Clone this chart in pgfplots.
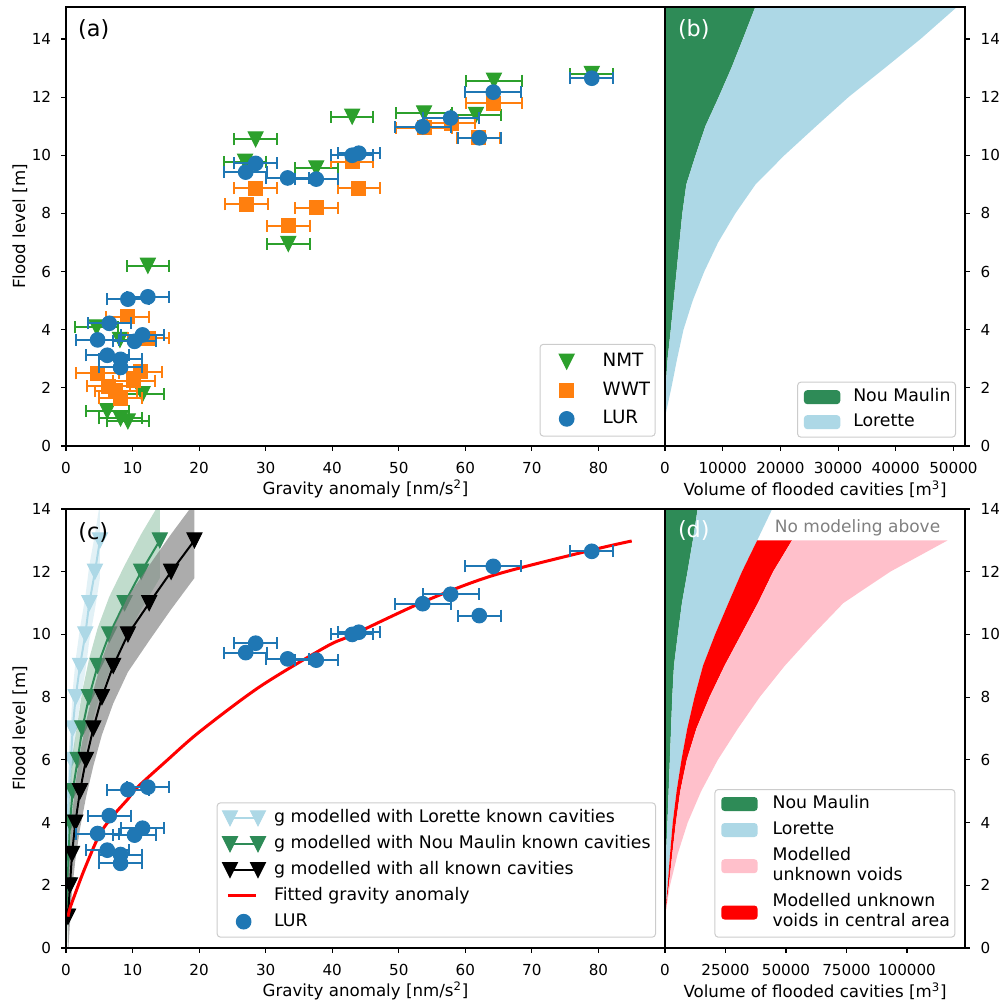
\documentclass[border=0pt]{standalone}
\usepackage{fontspec}
\setmainfont{DejaVu Sans}
\usepackage{pgfplots}
\usepackage{pgfplotstable}
\pgfplotsset{compat=1.18}

\definecolor{mplgreen}{HTML}{2CA02C}
\definecolor{mplorange}{HTML}{FF7F0E}
\definecolor{mplblue}{HTML}{1F77B4}
\definecolor{seagreen}{HTML}{2E8B57}
\definecolor{lightblue}{HTML}{ADD8E6}
\definecolor{pinkc}{HTML}{FFC0CB}
\definecolor{legedge}{HTML}{CCCCCC}

\pgfdeclareplotmark{tridown}{%
  \pgfpathmoveto{\pgfqpoint{-\pgfplotmarksize}{\pgfplotmarksize}}%
  \pgfpathlineto{\pgfqpoint{\pgfplotmarksize}{\pgfplotmarksize}}%
  \pgfpathlineto{\pgfqpoint{0pt}{-\pgfplotmarksize}}%
  \pgfpathclose
  \pgfusepathqfillstroke}

\newcommand\tickfont{\fontsize{9.1}{11}\selectfont}
\newcommand\labfont{\fontsize{10.2}{12.2}\selectfont}
\newcommand\legfont{\fontsize{10.4}{12.2}\selectfont}
\newcommand\panfont{\fontsize{13.4}{16}\selectfont}
\newcommand\tl[1]{\begin{tabular}{@{}l@{}}#1\end{tabular}}

\pgfplotstableread{
x y ex
12.3 6.2 3.2
4.6 4.08 3.2
8.1 3.65 3.2
11.5 1.78 3.2
6.2 1.2 3.2
8.2 0.95 3.2
9.3 0.85 3.2
26.9 9.78 3.2
28.5 10.55 3.2
33.4 6.95 3.2
37.6 9.55 3.2
43.0 11.33 3.2
53.8 11.44 4.2
61.6 11.39 3.7
64.3 12.57 4.2
79.0 12.8 3.2
}\nmt

\pgfplotstableread{
x y ex
12.4 3.7 3.1
9.2 4.45 3.2
4.7 2.5 3.2
11.2 2.55 3.2
6.4 2.05 3.2
10.2 2.25 3.2
8.2 1.65 3.2
7.5 1.9 3.2
43.0 9.78 3.2
28.5 8.86 3.2
27.1 8.31 3.2
37.6 8.2 3.2
44.0 8.86 3.2
33.4 7.58 3.2
53.8 10.95 4.2
57.9 11.1 3.6
64.3 11.79 4.2
62.0 10.6 3.2
}\wwt

\pgfplotstableread{
x y ex
6.5 4.22 3.2
4.75 3.65 3.2
11.5 3.82 3.2
10.3 3.6 3.2
6.2 3.12 3.2
8.2 2.98 3.2
8.2 2.7 3.2
9.3 5.05 3.2
12.3 5.13 3.2
27.0 9.42 3.2
28.5 9.72 3.2
33.3 9.22 3.2
37.6 9.18 3.2
43.0 10.0 3.2
44.0 10.07 3.2
53.6 10.98 4.2
57.8 11.28 4.2
62.1 10.6 3.2
64.2 12.17 4.2
79.0 12.65 3.2
}\lur

\pgfplotsset{
  mpl/.style={scale only axis, axis on top, clip marker paths=true,
    axis line style={line width=0.67pt},
    tick align=outside, major tick length=2.9pt,
    every tick/.style={black, line width=0.67pt},
    tick label style={font=\tickfont},
    label style={font=\labfont},
    /pgf/number format/assume math mode=true,
    /pgf/number format/fixed,
    /pgf/number format/1000 sep={},
    scaled ticks=false,
    xticklabel style={yshift=-3.5pt},
    legend cell align=left,
    every axis x label/.style={at={(axis description cs:0.5,-0.098)}, anchor=center},
  },
  leftpanel/.style={mpl, width=359.4pt, height=263.4pt, xmin=0, xmax=90,
    xtick={0,10,...,80}, ytick={0,2,...,14}, xtick pos=bottom, ytick pos=left,
    yticklabel style={xshift=-2.5pt},
    xlabel={Gravity anomaly [nm/s\textsuperscript{2}]}, ylabel={Flood level [m]},
    every axis y label/.style={at={(axis description cs:-0.077,0.5)}, anchor=center, rotate=90},
  },
  rightpanel/.style={mpl, width=180pt, height=263.4pt, xmin=0,
    ytick={0,2,...,14}, xtick pos=bottom, ytick pos=right, yticklabel pos=right,
    yticklabel style={xshift=3pt},
    xlabel={Volume of flooded cavities [m\textsuperscript{3}]},
  },
  ebar/.style={only marks, #1, mark options={line width=0.6pt, #1},
    error bars/.cd, x dir=both, x explicit, error mark=|,
    error bar style={line width=1.2pt, #1},
    error mark options={line width=1.2pt, mark size=3.6pt, #1}},
  markleg/.style={legend image code/.code={\path[draw=none,fill=none] (0pt,0pt) (#1,0pt);
     \draw[##1] plot coordinates {(13pt,0pt)};}},
  patchleg/.style={legend image code/.code={\path[draw=none,fill=none] (0pt,0pt) (#1,0pt);
     \fill[##1, draw=none] (0.8pt,-4.2pt) rectangle (22.6pt,4.2pt);}},
  modleg/.style={legend image code/.code={\path[draw=none,fill=none] (0pt,0pt) (31.2pt,0pt);
     \draw[##1] plot coordinates {(4.7pt,0pt) (21.5pt,0pt)};}},
  redleg/.style={legend image code/.code={\path[draw=none,fill=none] (0pt,0pt) (31.2pt,0pt);
     \draw[##1] (3.4pt,0pt) -- (20.4pt,0pt);}},
  lurleg/.style={legend image code/.code={\path[draw=none,fill=none] (0pt,0pt) (31.2pt,0pt);
     \draw[##1] plot coordinates {(12.9pt,0pt)};}},
}

\begin{document}
\begin{tikzpicture}
\useasboundingbox (0,0) rectangle (598.8pt,601.2pt);

%% ---------------- (a)
\begin{axis}[leftpanel, at={(39.6pt,333.6pt)}, anchor=south west, ymin=0, ymax=15.1,
  legend style={at={(0.9844,0.0213)}, anchor=south east, draw=legedge, line width=0.6pt,
    rounded corners=2pt, fill=white, inner xsep=3pt, inner ysep=5pt,
    font=\fontsize{11}{13}\selectfont, row sep=6.5pt,
    nodes={inner sep=0pt, text height=8.3pt, text depth=2.4pt}}]
\addplot[mark=tridown, mark size=4.5pt, forget plot, ebar=mplgreen] table[x=x,y=y,x error=ex] {\nmt};
\addplot[mark=square*, mark size=4.2pt, forget plot, ebar=mplorange] table[x=x,y=y,x error=ex] {\wwt};
\addplot[mark=*, mark size=4.4pt, forget plot, ebar=mplblue] table[x=x,y=y,x error=ex] {\lur};
\addlegendimage{markleg=34.6pt, only marks, mark=tridown, mark size=4.5pt, mplgreen, mark options={line width=0.6pt}}
\addlegendentry{NMT}
\addlegendimage{markleg=34.6pt, only marks, mark=square*, mark size=4.2pt, mplorange, mark options={line width=0.6pt}}
\addlegendentry{WWT}
\addlegendimage{markleg=34.6pt, only marks, mark=*, mark size=4.4pt, mplblue, mark options={line width=0.6pt}}
\addlegendentry{LUR}
\node[font=\panfont, anchor=center] at (axis description cs:0.0464,0.9476) {(a)};
\end{axis}

%% ---------------- (b)
\begin{axis}[rightpanel, at={(399pt,333.6pt)}, anchor=south west, ymin=0, ymax=15.1,
  xmax=52000, xtick={0,10000,...,50000},
  legend style={at={(0.97,0.019)}, anchor=south east, draw=legedge, line width=0.6pt,
    rounded corners=2pt, fill=white, inner xsep=3pt, inner ysep=4pt,
    font=\legfont, row sep=5pt,
    nodes={inner sep=0pt, text height=7.8pt, text depth=2.2pt}}]
\addplot[fill=seagreen, draw=none, forget plot] coordinates {
(0,1) (100,2) (450,3) (1000,4) (1500,5) (2000,6) (2500,7) (3000,8) (3700,9) (5300,10) (7000,11) (9300,12) (11500,13) (13500,14) (15650,15.1) (0,15.1)} -- cycle;
\addplot[fill=lightblue, draw=none, forget plot] coordinates {
(0,1) (100,2) (450,3) (1000,4) (1500,5) (2000,6) (2500,7) (3000,8) (3700,9) (5300,10) (7000,11) (9300,12) (11500,13) (13500,14) (15650,15.1)
(50600,15.1) (44300,14) (38100,13) (31800,12) (26200,11) (20700,10) (15700,9) (12200,8) (9200,7) (6800,6) (4800,5) (3200,4) (2100,3) (1100,2) (0,1)} -- cycle;
\addlegendimage{patchleg=30.4pt, seagreen}
\addlegendentry{Nou Maulin}
\addlegendimage{patchleg=30.4pt, lightblue}
\addlegendentry{Lorette}
\node[font=\panfont, text=white, anchor=center] at (axis description cs:0.096,0.9476) {(b)};
\end{axis}

%% ---------------- (c)
\begin{axis}[leftpanel, at={(39.6pt,32.4pt)}, anchor=south west, ymin=0, ymax=14,
  legend style={at={(0.985,0.0235)}, anchor=south east, draw=legedge, line width=0.6pt,
    rounded corners=2pt, fill=white, inner xsep=3pt, inner ysep=4.2pt,
    font=\legfont, row sep=5.3pt,
    nodes={inner sep=0pt, text height=7.8pt, text depth=2.4pt}}]
% bands
\addplot[fill=lightblue, fill opacity=0.35, draw=none, forget plot] coordinates {
(0.05,-0.2) (0.1,0.8) (0.15,1.8) (0.25,2.8) (0.4,3.8) (0.75,4.8) (1.0,5.8) (1.45,6.8) (2.1,7.8) (2.9,8.8) (3.5,9.8) (4.35,10.8) (5.1,11.8)
(5.1,14.2) (4.35,13.2) (3.5,12.2) (2.9,11.2) (2.1,10.2) (1.45,9.2) (1.0,8.2) (0.75,7.2) (0.4,6.2) (0.25,5.2) (0.15,4.2) (0.1,3.2) (0.05,2.2)} -- cycle;
\addplot[lightblue, line width=1.2pt, mark=tridown, mark size=4.5pt, mark options={line width=0.6pt}, forget plot] coordinates {
(0.05,1) (0.1,2) (0.15,3) (0.25,4) (0.4,5) (0.75,6) (1.0,7) (1.45,8) (2.1,9) (2.9,10) (3.5,11) (4.35,12) (5.1,13)};
\addplot[fill=seagreen, fill opacity=0.3, draw=none, forget plot] coordinates {
(0.15,-0.2) (0.25,0.8) (0.4,1.8) (0.6,2.8) (1.0,3.8) (1.75,4.8) (2.45,5.8) (3.45,6.8) (4.75,7.8) (6.5,8.8) (8.8,9.8) (11.3,10.8) (14.1,11.8)
(14.1,14.2) (11.3,13.2) (8.8,12.2) (6.5,11.2) (4.75,10.2) (3.45,9.2) (2.45,8.2) (1.75,7.2) (1.0,6.2) (0.6,5.2) (0.4,4.2) (0.25,3.2) (0.15,2.2)} -- cycle;
\addplot[seagreen, line width=1.2pt, mark=tridown, mark size=4.5pt, mark options={line width=0.6pt}, forget plot] coordinates {
(0.15,1) (0.25,2) (0.4,3) (0.6,4) (1.0,5) (1.75,6) (2.45,7) (3.45,8) (4.75,9) (6.5,10) (8.8,11) (11.3,12) (14.1,13)};
\addplot[fill=gray, fill opacity=0.65, draw=none, forget plot] coordinates {
(0.3,-0.2) (0.6,0.8) (0.9,1.8) (1.4,2.8) (2.1,3.8) (3.0,4.8) (4.1,5.8) (5.4,6.8) (7.1,7.8) (9.3,8.8) (12.5,9.8) (15.8,10.8) (19.3,11.8)
(19.3,14.2) (15.8,13.2) (12.5,12.2) (9.3,11.2) (7.1,10.2) (5.4,9.2) (4.1,8.2) (3.0,7.2) (2.1,6.2) (1.4,5.2) (0.9,4.2) (0.6,3.2) (0.3,2.2)} -- cycle;
\addplot[black, line width=1.2pt, mark=tridown, mark size=4.5pt, mark options={line width=0.6pt}, forget plot] coordinates {
(0.3,1) (0.6,2) (0.9,3) (1.4,4) (2.1,5) (3.0,6) (4.1,7) (5.4,8) (7.1,9) (9.3,10) (12.5,11) (15.8,12) (19.3,13)};
\addplot[red, line width=1.8pt, smooth, forget plot] coordinates {
(0.3,1.0) (0.6,1.27) (1.5,1.8) (2.75,2.5) (5,3.6) (7,4.2) (9.3,4.75) (10.6,5.1) (15,5.95) (20.1,6.9) (29.1,8.33) (39.1,9.61) (43,9.98) (53.8,11.05) (64.3,11.89) (79,12.69) (85,12.98)};
\addplot[mark=*, mark size=4.4pt, forget plot, ebar=mplblue] table[x=x,y=y,x error=ex] {\lur};
\addlegendimage{modleg, lightblue, line width=1.2pt, mark=tridown, mark size=4.5pt, mark options={line width=0.6pt}}
\addlegendentry{g modelled with Lorette known cavities}
\addlegendimage{modleg, seagreen, line width=1.2pt, mark=tridown, mark size=4.5pt, mark options={line width=0.6pt}}
\addlegendentry{g modelled with Nou Maulin known cavities}
\addlegendimage{modleg, black, line width=1.2pt, mark=tridown, mark size=4.5pt, mark options={line width=0.6pt}}
\addlegendentry{g modelled with all known cavities}
\addlegendimage{redleg, red, line width=1.8pt}
\addlegendentry{Fitted gravity anomaly}
\addlegendimage{lurleg, only marks, mark=*, mark size=4.4pt, mplblue, mark options={line width=0.6pt}}
\addlegendentry{LUR}
\node[font=\panfont, anchor=center] at (axis description cs:0.0456,0.9465) {(c)};
\end{axis}

%% ---------------- (d)
\begin{axis}[rightpanel, at={(399pt,32.4pt)}, anchor=south west, ymin=0, ymax=14,
  xmax=124000, xtick={0,25000,50000,75000,100000},
  legend style={at={(0.9678,0.0235)}, anchor=south east, draw=legedge, line width=0.6pt,
    rounded corners=2pt, fill=white, inner xsep=3pt, inner ysep=2.6pt,
    font=\legfont, row sep=3.4pt,
    nodes={inner sep=0pt, text height=, text depth=}}]
\addplot[fill=seagreen, draw=none, forget plot] coordinates {
(0,1) (100,2) (450,3) (1000,4) (1500,5) (2000,6) (2500,7) (3000,8) (3700,9) (5300,10) (7000,11) (9300,12) (11500,13) (13500,14) (15650,15.1) (0,15.1)} -- cycle;
\addplot[fill=lightblue, draw=none, forget plot] coordinates {
(0,1) (100,2) (450,3) (1000,4) (1500,5) (2000,6) (2500,7) (3000,8) (3700,9) (5300,10) (7000,11) (9300,12) (11500,13) (13500,14) (15650,15.1)
(50600,15.1) (44300,14) (38100,13) (31800,12) (26200,11) (20700,10) (15700,9) (12200,8) (9200,7) (6800,6) (4800,5) (3200,4) (2100,3) (1100,2) (0,1)} -- cycle;
\addplot[fill=red, draw=none, forget plot] coordinates {
(0,1) (1100,2) (2100,3) (3200,4) (4800,5) (6800,6) (9200,7) (12200,8) (15700,9) (20700,10) (26200,11) (31800,12) (38100,13)
(52500,13) (44700,12) (38400,11) (31500,10) (24600,9) (18400,8) (13000,7) (9000,6) (6300,5) (4500,4) (3000,3) (1600,2) (0,1)} -- cycle;
\addplot[fill=pinkc, draw=none, forget plot] coordinates {
(0,1) (1600,2) (3000,3) (4500,4) (6300,5) (9000,6) (13000,7) (18400,8) (24600,9) (31500,10) (38400,11) (44700,12) (52500,13)
(116850,13) (93070,12) (73700,11) (61250,10) (49500,9) (39130,8) (30130,7) (21830,6) (14940,5) (9380,4) (5230,3) (2070,2) (0,1)} -- cycle;
\addlegendimage{patchleg=31.6pt, seagreen}
\addlegendentry{\tl{Nou Maulin}}
\addlegendimage{patchleg=31.6pt, lightblue}
\addlegendentry{\tl{Lorette}}
\addlegendimage{patchleg=31.6pt, pinkc}
\addlegendentry{\tl{Modelled\\unknown voids}}
\addlegendimage{patchleg=31.6pt, red}
\addlegendentry{\tl{Modelled unknown\\voids in central area}}
\node[font=\panfont, text=white, anchor=center] at (axis description cs:0.096,0.952) {(d)};
\node[font=\labfont, text=gray, anchor=center] at (axis cs:79590,13.39) {No modeling above};
\end{axis}
\end{tikzpicture}
\end{document}
